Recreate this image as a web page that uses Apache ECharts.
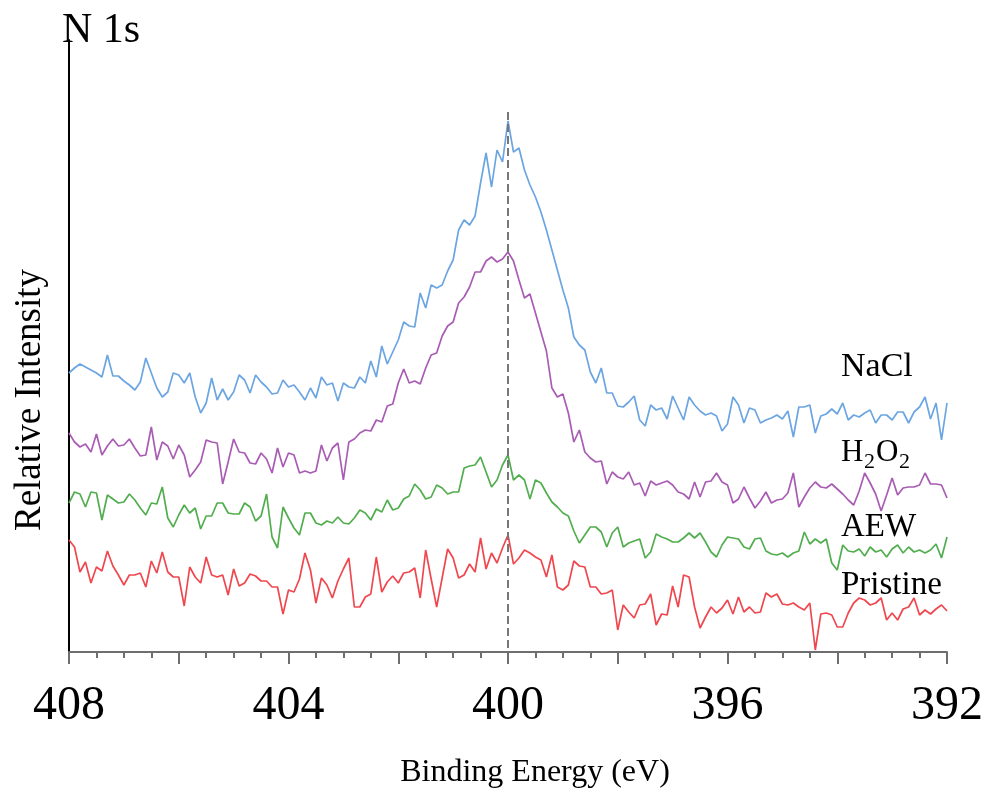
<!DOCTYPE html>
<html><head><meta charset="utf-8">
<script src="https://cdn.jsdelivr.net/npm/echarts@6/dist/echarts.min.js"></script>
<style>html,body{margin:0;padding:0;background:#fff}#c{width:986px;height:793px}</style>
</head><body><div id="c"></div>
<script>
// Binding energy grid (eV): 408 -> 392, step 0.1
const E_START = 408, E_STEP = 0.1, N_PTS = 161;
const energies = [];
for (let i = 0; i < N_PTS; i++) energies.push(+(E_START - i * E_STEP).toFixed(1));

const xTicksLabeled = [408, 404, 400, 396, 392];
const peakRef = 400;

const nacl = [279,284,288,285,282,279,275,297,276,276,
271,267,262,270,294,279,264,255,260,279,
277,269,279,255,239,249,274,252,263,252,
260,277,272,259,277,270,265,258,259,272,
265,267,260,252,264,254,275,267,269,251,
269,265,264,275,269,291,275,306,288,300,
312,330,326,325,359,344,367,364,367,381,
392,422,432,427,436,469,499,465,502,490,
531,500,504,482,467,455,440,422,402,382,
362,344,315,307,302,280,269,284,259,259,
246,245,250,256,232,226,247,242,244,233,
256,244,232,255,247,241,237,239,236,221,
228,255,247,229,244,242,229,232,234,237,
233,241,215,245,245,247,219,236,238,243,
238,249,232,237,235,239,242,229,237,237,
232,240,240,229,240,245,255,233,249,212,
249];

const h2o2 = [219,210,205,208,200,218,197,206,213,206,
207,213,204,196,197,225,192,210,206,193,
207,197,175,182,190,212,210,209,168,190,
213,200,199,189,188,199,193,179,204,185,
199,197,179,181,179,181,207,191,204,209,
172,210,213,219,222,221,232,230,246,248,
269,283,269,271,268,284,297,299,316,326,
330,349,355,365,380,380,391,395,390,393,
400,391,372,354,358,339,320,301,264,255,
258,239,210,222,200,194,190,191,168,180,
175,173,180,167,169,156,171,167,169,171,
167,160,158,153,170,155,170,171,179,170,
167,149,153,165,154,144,151,160,149,152,
153,159,179,145,155,164,170,165,164,168,
163,158,152,147,161,179,169,158,141,157,
174,157,164,165,165,167,179,168,168,167,
154];

const aew = [149,160,158,145,160,159,132,157,153,149,
150,158,152,144,137,149,148,165,134,125,
137,147,139,144,123,136,136,149,149,139,
138,138,149,145,131,136,158,115,104,145,
134,124,117,139,139,129,127,131,129,135,
129,128,134,142,139,132,143,140,152,142,
144,153,156,168,162,153,155,167,164,158,
160,160,184,186,187,195,180,165,172,187,
197,172,177,172,153,172,169,159,150,145,
139,136,121,109,117,125,125,120,105,119,
125,105,109,111,113,94,100,118,115,113,
110,110,114,119,114,119,110,100,95,107,
115,114,113,105,103,113,114,101,98,97,
99,95,99,101,120,108,113,109,113,89,
82,107,101,100,103,96,105,100,102,95,
103,107,99,105,100,102,99,102,108,94,
115];

const pristine = [112,105,80,90,69,85,81,101,86,77,
67,77,77,79,65,91,79,100,80,75,
75,46,85,75,69,95,77,75,77,57,
83,66,69,78,76,71,71,65,65,38,
62,60,73,99,82,49,74,67,54,71,
83,94,45,45,55,58,95,60,70,76,
69,79,80,84,54,102,73,45,74,103,
94,74,77,88,80,114,83,99,89,104,
117,88,94,102,99,95,92,75,97,65,
62,67,91,86,85,65,65,58,59,62,
22,47,40,34,47,48,58,27,38,37,
66,45,77,75,45,24,35,45,39,44,
52,38,55,40,45,39,40,59,55,58,
48,47,49,45,42,49,2,38,39,37,
25,25,39,49,54,52,47,49,54,32,
39,32,43,45,54,37,42,38,43,47,
41];

const seriesDefs = [
  {name:'NaCl', data:nacl, color:'#6ba5e2'},
  {name:'H2O2', data:h2o2, color:'#a95cb3'},
  {name:'AEW', data:aew, color:'#52ad4f'},
  {name:'Pristine', data:pristine, color:'#f0474f'}
];

const serif = 'Liberation Serif';
const chart = echarts.init(document.getElementById('c'));

const series = seriesDefs.map((s, k) => {
  const o = {
    name: s.name, type: 'line', showSymbol: false, symbol: 'none',
    data: s.data.map((v, i) => [energies[i], v]),
    lineStyle: {color: s.color, width: 1.7}, itemStyle: {color: s.color},
    animation: false
  };
  if (k === 0) {
    o.markLine = {
      symbol: 'none', silent: true, label: {show: false},
      lineStyle: {type: 'dashed', color: '#777', width: 2},
      data: [[{coord: [peakRef, 540]}, {coord: [peakRef, 0]}]]
    };
  }
  return o;
});

const textEl = (x, y, text, size, extra) => Object.assign({
  type: 'text', x: x, y: y,
  style: {text: text, fill: '#000', font: size + 'px "' + serif + '"', textAlign: 'left', textVerticalAlign: 'middle'}
}, extra || {});

chart.setOption({
  animation: false,
  backgroundColor: '#fff',
  grid: {left: 69, right: 35, top: 40, bottom: 141},
  xAxis: {
    type: 'value', inverse: true, min: 392, max: 408, interval: 2,
    axisLine: {show: true, lineStyle: {color: '#6e6e6e', width: 2}},
    axisTick: {show: true, length: 12, lineStyle: {color: '#6e6e6e', width: 2}},
    minorTick: {show: true, splitNumber: 4, length: 6, lineStyle: {color: '#6e6e6e', width: 2}},
    splitLine: {show: false},
    axisLabel: {
      margin: 30, fontSize: 48, fontFamily: serif, color: '#000',
      formatter: v => xTicksLabeled.indexOf(v) >= 0 ? String(v) : ''
    }
  },
  yAxis: {
    type: 'value', min: 0, max: 612,
    axisLine: {show: true, lineStyle: {color: '#000', width: 2}},
    axisTick: {show: false}, axisLabel: {show: false}, splitLine: {show: false}
  },
  series: series,
  graphic: [
    textEl(62, 31, 'N 1s', 42),
    textEl(30, 400, 'Relative Intensity', 37, {rotation: Math.PI / 2, style: {text: 'Relative Intensity', fill: '#000', font: '37px "' + serif + '"', textAlign: 'center', textVerticalAlign: 'middle'}}),
    textEl(535, 773, 'Binding Energy (eV)', 32, {style: {text: 'Binding Energy (eV)', fill: '#000', font: '32px "' + serif + '"', textAlign: 'center', textVerticalAlign: 'middle'}}),
    textEl(841, 367, 'NaCl', 34),
    textEl(841, 453, 'H', 31),
    textEl(864, 462, '2', 22),
    textEl(876, 453, 'O', 31),
    textEl(899, 462, '2', 22),
    textEl(841, 527, 'AEW', 33),
    textEl(841, 585, 'Pristine', 33)
  ]
});
</script></body></html>
